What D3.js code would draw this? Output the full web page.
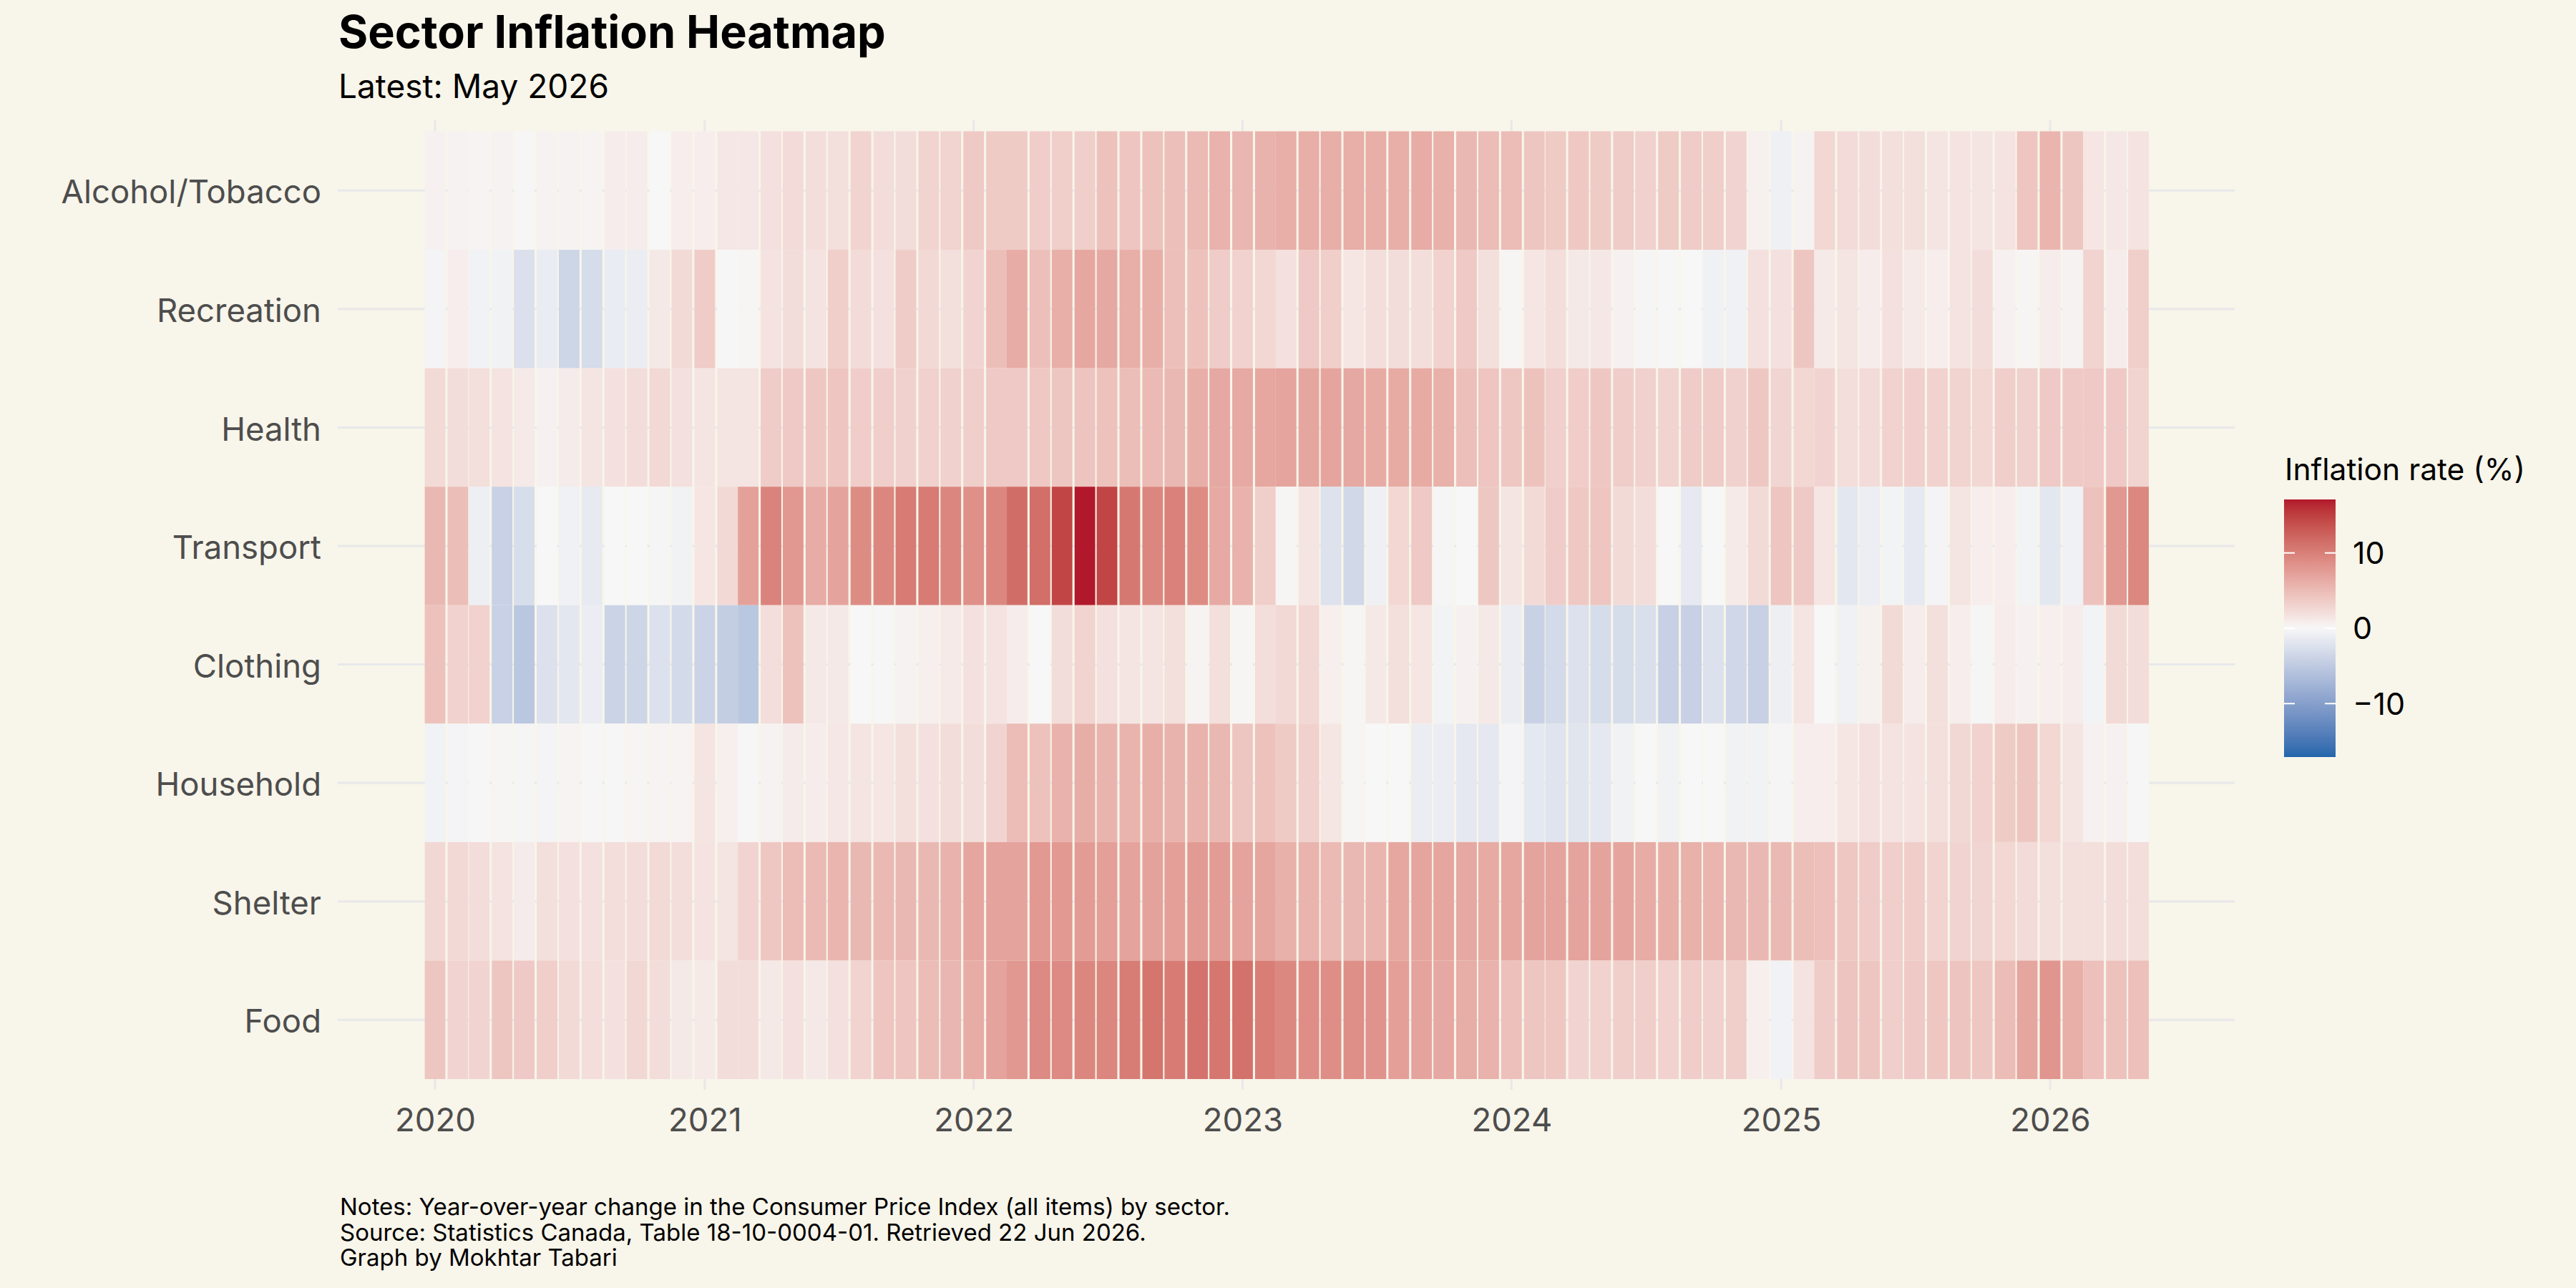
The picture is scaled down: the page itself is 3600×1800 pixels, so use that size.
<!DOCTYPE html>
<meta charset="utf-8">
<script src="https://d3js.org/d3.v7.min.js"></script>
<style>
body { margin: 0; background: #F8F5EA; }
svg text { font-family: Inter, "Noto Sans", sans-serif; }
.axis path { display: none; }
.axis text { font-size: 45.5px; fill: #4D4D4D; }
</style>
<body></body>
<script>

// rows, top to bottom
var sectors = ["Alcohol/Tobacco", "Recreation", "Health", "Transport", "Clothing", "Household", "Shelter", "Food"];
var yearTicks = [2020, 2021, 2022, 2023, 2024, 2025, 2026];
var legendTicks = [10, 0, -10];

// year-over-year %, Jan 2020 .. May 2026 (77 months)
var alcohol = [0.5, 0.4, 0.3, 0.4, 0.1, 0.4, 0.4, 0.3, 0.9, 0.9, 0.0, 0.8, 0.8, 1.3, 1.3, 1.9, 2.3, 2.1, 2.0, 3.0,
  2.2, 2.2, 3.0, 3.0, 3.8, 3.7, 3.7, 3.5, 3.4, 3.4, 4.5, 4.2, 4.5, 4.7, 5.1, 5.8, 5.4, 5.7, 6.0,
  6.1, 6.1, 6.1, 6.1, 6.1, 6.3, 5.9, 5.3, 4.9, 4.9, 4.1, 3.7, 3.9, 3.7, 3.6, 3.2, 3.7, 3.6, 3.4, 2.9,
  0.6, -0.8, 0.4, 2.7, 2.3, 2.2, 2.0, 2.0, 1.5, 1.7, 1.6, 1.7, 4.2, 5.5, 4.1, 1.4, 1.3, 1.7];
var recreation = [-0.3, 0.8, -0.5, -0.6, -2.5, -1.2, -3.7, -3.0, -1.2, -1.1, 1.2, 2.4, 3.6, 0.1, 0.2, 1.7, 2.2, 1.7, 3.4, 2.3,
  1.9, 3.6, 2.5, 2.0, 2.9, 4.8, 6.3, 4.7, 6.0, 6.7, 6.6, 6.1, 6.0, 4.7, 4.4, 3.6, 3.1, 2.7, 1.9,
  3.8, 3.4, 1.4, 2.1, 2.2, 2.1, 3.1, 3.8, 2.0, 0.2, 1.4, 2.1, 1.2, 1.3, 0.5, -0.2, -0.1, 0.0, -0.7, -0.7,
  1.9, 1.9, 4.1, 1.1, 1.5, 0.9, 1.8, 1.1, 0.8, 1.7, 2.2, 0.5, 0.2, 0.9, 0.4, 3.0, 0.9, 3.4];
var health = [2.4, 2.2, 2.0, 1.7, 1.1, 0.5, 1.0, 1.6, 1.9, 2.2, 2.5, 1.9, 1.6, 1.6, 1.6, 3.6, 3.8, 4.0, 4.2, 3.5,
  3.4, 3.2, 3.2, 3.2, 3.4, 3.8, 3.8, 3.9, 4.1, 4.3, 4.5, 4.8, 5.1, 5.3, 6.0, 6.6, 6.5, 6.7, 6.9,
  6.8, 6.9, 6.6, 6.4, 6.4, 6.4, 5.9, 4.7, 4.2, 4.0, 4.4, 3.3, 3.5, 4.0, 3.5, 3.2, 3.0, 3.6, 3.6, 3.2,
  4.0, 2.8, 2.7, 2.9, 2.1, 2.3, 3.1, 3.3, 3.1, 3.0, 2.7, 3.4, 3.2, 3.8, 3.8, 3.8, 3.8, 3.0];
var transport = [5.3, 4.8, -0.9, -4.2, -2.8, 0.0, -0.7, -1.4, 0.0, 0.0, -0.2, -0.6, 1.4, 2.5, 7.2, 9.7, 8.0, 6.3, 7.0, 9.0,
  9.4, 10.4, 10.4, 9.4, 8.6, 9.4, 11.5, 11.4, 14.6, 17.1, 14.6, 10.6, 9.4, 9.9, 9.0, 6.5, 5.8, 3.4, 0.2,
  1.5, -2.3, -3.4, -0.8, 2.7, 3.8, -0.2, 0.0, 4.0, 1.5, 2.4, 3.6, 3.9, 4.2, 2.4, 2.2, 0.0, -1.5, 0.0, 1.1,
  2.4, 4.2, 3.8, 1.4, -1.8, -1.0, -0.4, -1.5, -0.3, 1.6, 0.8, 0.8, -0.4, -1.8, -0.7, 4.4, 8.0, 9.3];
var clothing = [4.4, 3.1, 3.1, -4.2, -5.4, -2.4, -1.8, -1.1, -3.9, -3.7, -2.4, -3.2, -3.9, -4.6, -5.4, 2.1, 4.4, 1.2, 1.2, 0.0,
  0.1, 0.4, 0.7, 1.1, 1.8, 1.7, 0.9, 0.0, 2.2, 3.0, 1.8, 1.5, 1.6, 2.0, 0.3, 2.0, 0.2, 2.1, 2.5,
  2.6, 0.7, 0.2, 1.2, 2.0, 1.4, -0.4, 0.5, 1.2, -1.1, -4.1, -3.2, -2.4, -2.9, -3.0, -2.7, -4.3, -4.3, -2.4, -3.5,
  -4.3, -0.9, 1.6, 0.0, -0.7, 0.6, 2.4, 0.9, 2.0, 0.8, -0.2, 0.9, 0.5, 0.7, 0.9, -0.4, 2.4, 2.2];
var household = [-0.5, -0.3, -0.1, 0.2, -0.2, -0.3, 0.3, -0.1, 0.1, 0.2, 0.3, 0.3, 1.6, 0.7, -0.1, 0.4, 1.0, 0.9, 1.3, 1.6,
  1.4, 2.0, 1.8, 2.2, 2.2, 2.9, 4.9, 4.4, 5.8, 6.2, 5.6, 5.6, 6.0, 5.7, 5.7, 5.3, 4.1, 4.5, 3.7,
  3.2, 1.4, 0.2, 0.0, 0.0, -1.1, -1.1, -1.6, -1.6, -0.3, -1.7, -2.1, -2.0, -1.6, -0.6, 0.0, -0.6, 0.0, 0.0, -0.6,
  -0.6, -0.2, 0.8, 0.8, 1.4, 1.8, 1.7, 1.7, 2.0, 2.6, 3.1, 3.7, 4.1, 2.7, 1.5, 0.5, 0.5, -0.1];
var shelter = [2.6, 2.5, 2.2, 1.7, 1.0, 2.0, 1.8, 1.8, 2.1, 2.2, 2.4, 2.1, 1.7, 1.6, 2.9, 4.0, 4.9, 5.1, 5.5, 5.3,
  5.2, 5.3, 5.3, 5.8, 6.8, 7.0, 7.0, 7.9, 7.9, 7.6, 7.4, 7.0, 7.1, 7.3, 7.7, 7.6, 7.0, 6.8, 5.9,
  5.6, 5.1, 5.3, 5.5, 6.7, 6.9, 6.8, 6.6, 6.4, 6.7, 7.0, 7.0, 7.0, 7.0, 6.9, 6.3, 6.0, 5.9, 5.5, 5.3,
  5.3, 5.2, 4.8, 4.6, 4.0, 3.6, 3.4, 3.5, 3.0, 2.9, 2.8, 2.7, 2.3, 2.0, 2.0, 2.0, 2.2, 2.1];
var food = [4.1, 2.9, 2.9, 4.1, 3.8, 3.4, 2.4, 2.1, 1.8, 2.6, 2.2, 1.2, 1.1, 2.2, 2.2, 1.2, 1.8, 1.2, 1.9, 3.0,
  4.2, 4.2, 4.9, 5.4, 6.3, 7.0, 8.0, 9.1, 9.1, 9.4, 9.5, 10.2, 10.9, 10.3, 11.0, 10.8, 11.2, 10.1, 9.3,
  8.8, 8.8, 8.7, 8.4, 7.4, 7.0, 6.6, 6.2, 5.8, 4.6, 4.1, 4.0, 2.9, 3.1, 3.4, 3.4, 3.1, 3.5, 3.2, 3.4,
  0.7, -0.5, 1.7, 3.6, 4.3, 4.1, 3.4, 3.8, 4.0, 4.3, 4.0, 4.9, 6.8, 8.2, 6.0, 4.6, 4.4, 4.6];

var series = [alcohol, recreation, health, transport, clothing, household, shelter, food];
var months = d3.utcMonth.range(new Date(Date.UTC(2020, 0, 1)), new Date(Date.UTC(2026, 5, 1)));

var data = [];
sectors.forEach(function(s, i) {
  series[i].forEach(function(v, j) {
    data.push({sector: s, date: months[j], value: v});
  });
});

var W = 3600, H = 1800;
var panel = {left: 472, right: 3123, top: 168, bottom: 1523};

var svg = d3.select("body").append("svg")
    .attr("width", W)
    .attr("height", H);

svg.append("rect").attr("width", W).attr("height", H).attr("fill", "#F8F5EA");

var xScale = d3.scaleUtc()
  .domain([new Date(Date.UTC(2020, 0, 1)), new Date(Date.UTC(2026, 0, 1))])
  .range([608, 2865]);

var yScale = d3.scaleBand()
  .domain(sectors)
  .range([183.5, 1508]);

var lim = d3.max(data, function(d) { return Math.abs(d.value); });
var toRed = d3.interpolateLab("#F7F7F7", "#B2182B"),
    toBlue = d3.interpolateLab("#F7F7F7", "#2166AC");
function fill(v) {
  return v >= 0 ? toRed(v / lim) : toBlue(-v / lim);
}

// gridlines
var grid = svg.append("g").attr("stroke", "#E8E8EA").attr("stroke-width", 3);
grid.selectAll(".hline").data(sectors).enter().append("line")
  .attr("x1", panel.left).attr("x2", panel.right)
  .attr("y1", function(d) { return yScale(d) + yScale.bandwidth() / 2; })
  .attr("y2", function(d) { return yScale(d) + yScale.bandwidth() / 2; });
grid.selectAll(".vline").data(yearTicks).enter().append("line")
  .attr("y1", panel.top).attr("y2", panel.bottom)
  .attr("x1", function(d) { return xScale(new Date(Date.UTC(d, 0, 1))); })
  .attr("x2", function(d) { return xScale(new Date(Date.UTC(d, 0, 1))); });

// tiles: 28-day wide, centred on the 1st of each month
svg.append("g").selectAll("rect")
  .data(data).enter().append("rect")
  .attr("x", function(d) { return xScale(d3.utcDay.offset(d.date, -14)); })
  .attr("width", function(d) { return xScale(d3.utcDay.offset(d.date, 14)) - xScale(d3.utcDay.offset(d.date, -14)); })
  .attr("y", function(d) { return yScale(d.sector); })
  .attr("height", yScale.bandwidth())
  .attr("fill", function(d) { return fill(d.value); });

// axes
var xAxis = d3.axisBottom(xScale)
  .tickValues(yearTicks.map(function(y) { return new Date(Date.UTC(y, 0, 1)); }))
  .tickFormat(d3.utcFormat("%Y"))
  .tickSize(0).tickPadding(26);
svg.append("g").attr("class", "axis")
  .attr("transform", "translate(0," + panel.bottom + ")")
  .call(xAxis);

var yAxis = d3.axisLeft(yScale).tickSize(0).tickPadding(23);
svg.append("g").attr("class", "axis")
  .attr("transform", "translate(" + panel.left + ",0)")
  .call(yAxis)
  .selectAll("text").attr("dy", "0.4em");

// titles
svg.append("text").attr("x", 473).attr("y", 67)
  .attr("font-size", 63).attr("font-weight", 700).attr("fill", "#000")
  .text("Sector Inflation Heatmap");
svg.append("text").attr("x", 473).attr("y", 137)
  .attr("font-size", 46).attr("fill", "#000")
  .text("Latest: May 2026");

// legend
var lg = {x: 3192, y0: 698, y1: 1058, w: 72};
var legendScale = d3.scaleLinear().domain([-lim, lim]).range([lg.y1, lg.y0]);

var grad = svg.append("defs").append("linearGradient")
  .attr("id", "cbar").attr("x1", 0).attr("y1", 1).attr("x2", 0).attr("y2", 0);
d3.range(0, 41).forEach(function(i) {
  var v = -lim + 2 * lim * i / 40;
  grad.append("stop").attr("offset", (i / 40 * 100) + "%").attr("stop-color", fill(v));
});

svg.append("text").attr("x", lg.x + 1).attr("y", 671)
  .attr("font-size", 42.5).attr("fill", "#000")
  .text("Inflation rate (%)");

svg.append("rect")
  .attr("x", lg.x).attr("y", lg.y0)
  .attr("width", lg.w).attr("height", lg.y1 - lg.y0)
  .attr("fill", "url(#cbar)");

var lt = svg.append("g").selectAll("g").data(legendTicks).enter().append("g");
lt.append("line")
  .attr("x1", lg.x).attr("x2", lg.x + 15)
  .attr("y1", function(d) { return legendScale(d); }).attr("y2", function(d) { return legendScale(d); })
  .attr("stroke", "#fff").attr("stroke-width", 2);
lt.append("line")
  .attr("x1", lg.x + lg.w - 15).attr("x2", lg.x + lg.w)
  .attr("y1", function(d) { return legendScale(d); }).attr("y2", function(d) { return legendScale(d); })
  .attr("stroke", "#fff").attr("stroke-width", 2);
lt.append("text")
  .attr("x", 3288)
  .attr("y", function(d) { return legendScale(d); })
  .attr("dy", "0.36em")
  .attr("font-size", 43).attr("fill", "#000")
  .text(function(d) { return d < 0 ? "\u2212" + Math.abs(d) : d; });

// caption
var caption = [
  "Notes: Year-over-year change in the Consumer Price Index (all items) by sector.",
  "Source: Statistics Canada, Table 18-10-0004-01. Retrieved 22 Jun 2026.",
  "Graph by Mokhtar Tabari"
];
svg.append("g").selectAll("text").data(caption).enter().append("text")
  .attr("x", 475)
  .attr("y", function(d, i) { return 1698 + i * 35.5; })
  .attr("font-size", 33).attr("fill", "#000")
  .text(function(d) { return d; });

</script>
